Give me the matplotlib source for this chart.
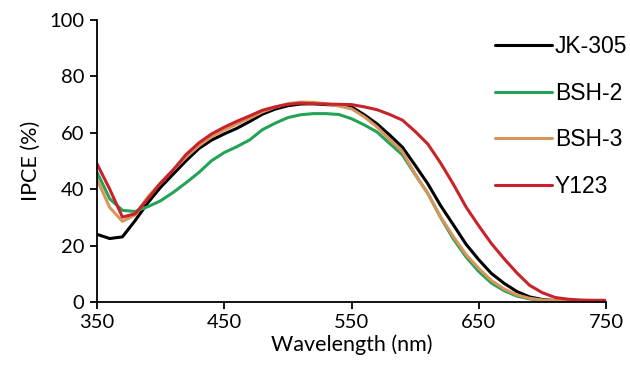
import matplotlib
matplotlib.use("Agg")
import matplotlib.pyplot as plt

wavelength = list(range(350, 751, 10))

jk305 = [24, 22.5, 23.1, 28.9, 35.2, 40.7, 45.4, 50.1, 54.4, 57.4, 59.6, 61.6, 64, 66.6,
         68.4, 69.6, 70.2, 70.3, 70, 69.8, 69.2, 66.4, 63.2, 59.2, 54.9, 48.5, 41.9, 34.2,
         27.4, 20.5, 15, 10.1, 6.6, 3.7, 1.8, 0.9, 0.5, 0.4, 0.4, 0.4, 0.4]
bsh2 = [46, 36.6, 32.5, 32.1, 33.8, 35.9, 38.9, 42.3, 45.9, 50.1, 53, 55.1, 57.5, 61.1,
        63.4, 65.4, 66.4, 66.8, 66.8, 66.5, 65, 62.8, 60.3, 56.2, 52.2, 45.2, 38.5, 30,
        22.4, 16, 10.8, 6.7, 4, 2.1, 1.1, 0.6, 0.4, 0.3, 0.3, 0.3, 0.3]
bsh3 = [43.5, 33.5, 28.6, 30.9, 37.3, 42.2, 46.9, 51.4, 55.4, 58.6, 61, 63.1, 65.2, 67.4,
        69.1, 70.3, 70.9, 70.8, 70.3, 69.5, 68.5, 65.7, 62.1, 57.6, 53.3, 45.4, 38.4, 30.2,
        23.2, 16.8, 11.9, 7.6, 4.6, 2.5, 1.3, 0.7, 0.5, 0.3, 0.3, 0.3, 0.3]
y123 = [49, 40, 30.1, 31.3, 36.6, 42.2, 46.9, 52.3, 56.4, 59.6, 62, 64.1, 66, 68, 69.2,
        70.1, 70.5, 70.3, 70.2, 70.1, 70, 69.2, 68.2, 66.5, 64.5, 60.5, 56, 49.3, 41.8,
        33.7, 27, 20.7, 15.3, 10.3, 5.9, 3.3, 1.6, 1, 0.7, 0.6, 0.6]

series = [("JK-305", jk305, "#000000"),
          ("BSH-2", bsh2, "#24a257"),
          ("BSH-3", bsh3, "#d7955c"),
          ("Y123", y123, "#c8232a")]

xticks = [350, 450, 550, 650, 750]
yticks = [0, 20, 40, 60, 80, 100]

fig = plt.figure(figsize=(6.3, 3.76), dpi=100)
ax = fig.add_axes([97/630, 1-302/376, (606-97)/630, (302-20)/376])

for name, vals, col in series:
    ax.plot(wavelength, vals, color=col, lw=2.2, label=name,
            solid_capstyle='round', solid_joinstyle='round')

ax.set_xlim(350, 750)
ax.set_ylim(0, 100)
ax.set_xticks(xticks)
ax.set_yticks(yticks)
for s in ["top", "right"]:
    ax.spines[s].set_visible(False)
for s in ["left", "bottom"]:
    ax.spines[s].set_linewidth(1.3)
ax.tick_params(direction='out', length=5, width=1.3, labelsize=14.5, pad=4)
for lab in ax.get_xticklabels() + ax.get_yticklabels():
    lab.set_family("Lato")
ax.set_xlabel("Wavelength (nm)", fontsize=15.5, family="Lato", labelpad=2)
ax.set_ylabel("IPCE (%)", fontsize=15.5, family="Lato", labelpad=6)

leg = ax.legend(loc='upper left', bbox_to_anchor=(495/630, 1-35/376),
                bbox_transform=fig.transFigure, frameon=False, borderpad=0,
                borderaxespad=0, handlelength=2.5, handletextpad=0.12,
                labelspacing=1.03, prop={"family": "Liberation Sans", "size": 16.5})

fig.savefig("out.png", dpi=100)
